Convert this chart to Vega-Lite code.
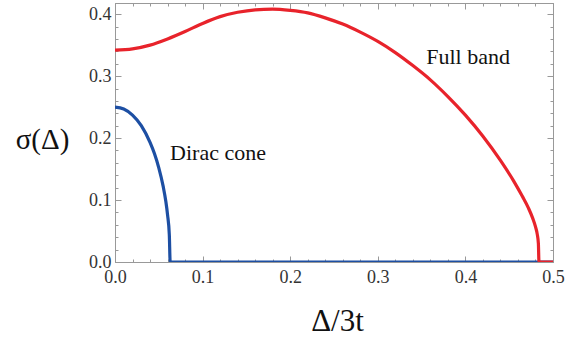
{
  "$schema": "https://vega.github.io/schema/vega-lite/v6.json",
  "width": 438,
  "height": 259,
  "autosize": {"type": "none"},
  "padding": {"left": 115, "top": 3, "right": 34, "bottom": 81},
  "background": "white",
  "config": {
    "view": {"stroke": "#999999", "strokeWidth": 1},
    "font": "Liberation Serif",
    "axis": {
      "grid": false,
      "domainColor": "#999999",
      "tickColor": "#999999",
      "labelFont": "Liberation Serif",
      "labelFontSize": 18,
      "labelColor": "#333333",
      "labelFlush": false,
      "labelOverlap": false,
      "titleFont": "Liberation Serif",
      "titleFontWeight": "normal",
      "titleColor": "#111111"
    }
  },
  "datasets": {
    "curves": [
      {"s": "Dirac", "x": 0.0, "y": 0.25},
      {"s": "Dirac", "x": 0.01, "y": 0.247},
      {"s": "Dirac", "x": 0.02, "y": 0.237},
      {"s": "Dirac", "x": 0.03, "y": 0.22},
      {"s": "Dirac", "x": 0.04, "y": 0.193},
      {"s": "Dirac", "x": 0.045, "y": 0.175},
      {"s": "Dirac", "x": 0.05, "y": 0.152},
      {"s": "Dirac", "x": 0.055, "y": 0.122},
      {"s": "Dirac", "x": 0.058, "y": 0.098},
      {"s": "Dirac", "x": 0.06, "y": 0.076},
      {"s": "Dirac", "x": 0.062, "y": 0.044},
      {"s": "Dirac", "x": 0.063, "y": 0.0},
      {"s": "Dirac", "x": 0.5, "y": 0.0},
      {"s": "Full", "x": 0.0, "y": 0.342},
      {"s": "Full", "x": 0.02, "y": 0.344},
      {"s": "Full", "x": 0.04, "y": 0.35},
      {"s": "Full", "x": 0.06, "y": 0.36},
      {"s": "Full", "x": 0.08, "y": 0.372},
      {"s": "Full", "x": 0.1, "y": 0.385},
      {"s": "Full", "x": 0.12, "y": 0.396},
      {"s": "Full", "x": 0.14, "y": 0.403},
      {"s": "Full", "x": 0.16, "y": 0.407},
      {"s": "Full", "x": 0.18, "y": 0.408},
      {"s": "Full", "x": 0.2, "y": 0.406},
      {"s": "Full", "x": 0.22, "y": 0.402},
      {"s": "Full", "x": 0.24, "y": 0.394},
      {"s": "Full", "x": 0.26, "y": 0.384},
      {"s": "Full", "x": 0.28, "y": 0.371},
      {"s": "Full", "x": 0.3, "y": 0.356},
      {"s": "Full", "x": 0.32, "y": 0.338},
      {"s": "Full", "x": 0.34, "y": 0.317},
      {"s": "Full", "x": 0.36, "y": 0.294},
      {"s": "Full", "x": 0.38, "y": 0.267},
      {"s": "Full", "x": 0.4, "y": 0.237},
      {"s": "Full", "x": 0.42, "y": 0.203},
      {"s": "Full", "x": 0.44, "y": 0.164},
      {"s": "Full", "x": 0.455, "y": 0.131},
      {"s": "Full", "x": 0.465, "y": 0.106},
      {"s": "Full", "x": 0.472, "y": 0.087},
      {"s": "Full", "x": 0.477, "y": 0.07},
      {"s": "Full", "x": 0.48, "y": 0.057},
      {"s": "Full", "x": 0.482, "y": 0.045},
      {"s": "Full", "x": 0.4833, "y": 0.03},
      {"s": "Full", "x": 0.484, "y": 0.0},
      {"s": "Full", "x": 0.5, "y": 0.0}
    ],
    "labels": [
      {"label": "Full band", "x": 0.403, "y": 0.32},
      {"label": "Dirac cone", "x": 0.1176, "y": 0.165}
    ]
  },
  "resolve": {"axis": {"x": "independent", "y": "independent"}},
  "layer": [
    {
      "data": {"name": "curves"},
      "transform": [{"filter": "datum.s === 'Dirac'"}],
      "mark": {"type": "line", "color": "#1d4fa3", "strokeWidth": 3.2, "clip": true, "interpolate": "monotone"},
      "encoding": {
        "x": {
          "field": "x", "type": "quantitative",
          "scale": {"domain": [0, 0.5], "nice": false, "zero": false},
          "axis": {
            "orient": "bottom", "values": [0, 0.1, 0.2, 0.3, 0.4, 0.5], "format": ".1f",
            "tickSize": -6, "labelPadding": 12,
            "labelFont": "Liberation Serif", "labelFontSize": 18,
            "title": "Δ/3t", "titleFont": "Liberation Serif", "titleFontSize": 31, "titleX": 222, "titleY": 68,
            "titleAnchor": null, "titleAlign": "center", "titleBaseline": "alphabetic"
          }
        },
        "y": {
          "field": "y", "type": "quantitative",
          "scale": {"domain": [0, 0.418], "nice": false, "zero": false},
          "axis": {
            "orient": "left", "values": [0, 0.1, 0.2, 0.3, 0.4], "format": ".1f",
            "tickSize": -6, "labelPadding": 10,
            "labelFont": "Liberation Serif", "labelFontSize": 18,
            "title": "σ(Δ)", "titleFont": "Liberation Serif", "titleFontSize": 29, "titleAngle": 0, "titleX": -73, "titleY": 136,
            "titleAlign": "center", "titleBaseline": "middle", "titleAnchor": null
          }
        },
        "order": {"field": "x", "type": "quantitative"}
      }
    },
    {
      "data": {"name": "curves"},
      "transform": [{"filter": "datum.s === 'Full'"}],
      "mark": {"type": "line", "color": "#e8232b", "strokeWidth": 3.2, "clip": true, "interpolate": "monotone"},
      "encoding": {
        "x": {
          "field": "x", "type": "quantitative",
          "axis": {"orient": "top", "values": [0, 0.1, 0.2, 0.3, 0.4, 0.5], "labels": false, "tickSize": -6, "title": null}
        },
        "y": {
          "field": "y", "type": "quantitative",
          "axis": {"orient": "right", "values": [0, 0.1, 0.2, 0.3, 0.4], "labels": false, "tickSize": -6, "title": null}
        },
        "order": {"field": "x", "type": "quantitative"}
      }
    },
    {
      "data": {"name": "labels"},
      "transform": [{"filter": "datum.label === 'Full band'"}],
      "mark": {"type": "text", "font": "Liberation Serif", "fontSize": 22, "color": "#111111", "baseline": "alphabetic", "align": "center"},
      "encoding": {
        "x": {
          "field": "x", "type": "quantitative",
          "axis": {"orient": "bottom", "values": [0.02, 0.04, 0.06, 0.08, 0.12, 0.14, 0.16, 0.18, 0.22, 0.24, 0.26, 0.28, 0.32, 0.34, 0.36, 0.38, 0.42, 0.44, 0.46, 0.48], "labels": false, "domain": false, "tickSize": -3, "title": null}
        },
        "y": {
          "field": "y", "type": "quantitative",
          "axis": {"orient": "left", "values": [0.02, 0.04, 0.06, 0.08, 0.12, 0.14, 0.16, 0.18, 0.22, 0.24, 0.26, 0.28, 0.32, 0.34, 0.36, 0.38], "labels": false, "domain": false, "tickSize": -3, "title": null}
        },
        "text": {"field": "label"}
      }
    },
    {
      "data": {"name": "labels"},
      "transform": [{"filter": "datum.label === 'Dirac cone'"}],
      "mark": {"type": "text", "font": "Liberation Serif", "fontSize": 22, "color": "#111111", "baseline": "alphabetic", "align": "center"},
      "encoding": {
        "x": {
          "field": "x", "type": "quantitative",
          "axis": {"orient": "top", "values": [0.02, 0.04, 0.06, 0.08, 0.12, 0.14, 0.16, 0.18, 0.22, 0.24, 0.26, 0.28, 0.32, 0.34, 0.36, 0.38, 0.42, 0.44, 0.46, 0.48], "labels": false, "domain": false, "tickSize": -3, "title": null}
        },
        "y": {
          "field": "y", "type": "quantitative",
          "axis": {"orient": "right", "values": [0.02, 0.04, 0.06, 0.08, 0.12, 0.14, 0.16, 0.18, 0.22, 0.24, 0.26, 0.28, 0.32, 0.34, 0.36, 0.38], "labels": false, "domain": false, "tickSize": -3, "title": null}
        },
        "text": {"field": "label"}
      }
    }
  ]
}
